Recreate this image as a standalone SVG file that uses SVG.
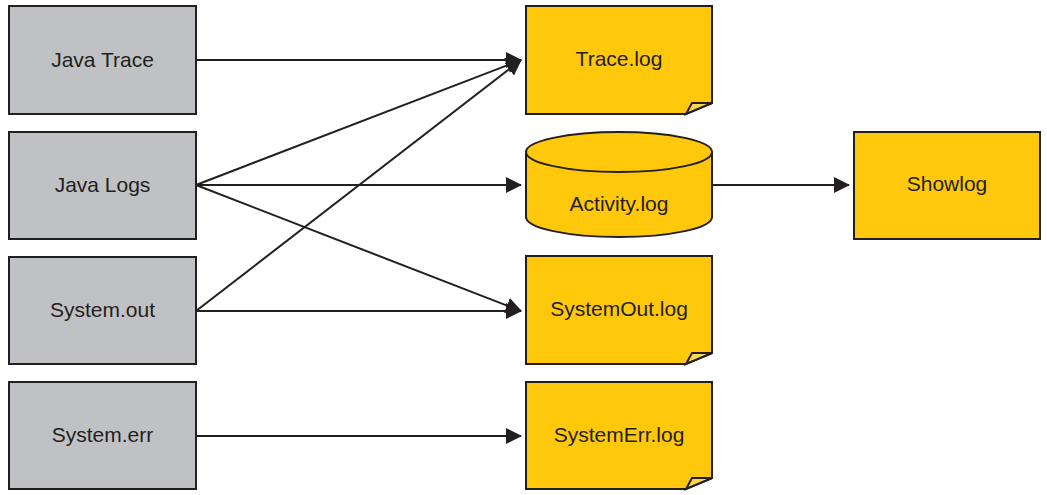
<svg xmlns="http://www.w3.org/2000/svg" width="1047" height="495" viewBox="0 0 1047 495">
<defs>
<style>
.src{fill:#c0c1c4;stroke:#231f20;stroke-width:2}
.log{fill:#ffc80a;stroke:#231f20;stroke-width:2;stroke-linejoin:miter}
.fold{fill:#ffd84a;stroke:#231f20;stroke-width:2;stroke-linejoin:miter}
.t{font-family:"Liberation Sans",Arial,sans-serif;font-size:21px;fill:#231f20;text-anchor:middle}
.c{stroke:#231f20;stroke-width:2;fill:none;marker-end:url(#ah)}
</style>
<marker id="ah" markerUnits="userSpaceOnUse" markerWidth="16" markerHeight="16" refX="15" refY="8" orient="auto" viewBox="0 0 16 16">
<path d="M0,0 L16,8 L0,16 z" fill="#231f20"/>
</marker>
</defs>
<rect width="1047" height="495" fill="#ffffff"/>
<g id="connectors">
<line class="c" x1="196" y1="60" x2="521" y2="60"/>
<line class="c" x1="196" y1="185" x2="521" y2="60"/>
<line class="c" x1="196" y1="311" x2="521" y2="60"/>
<line class="c" x1="196" y1="185" x2="521" y2="185"/>
<line class="c" x1="196" y1="185" x2="521" y2="311"/>
<line class="c" x1="196" y1="311" x2="521" y2="311"/>
<line class="c" x1="196" y1="436" x2="521" y2="436"/>
<line class="c" x1="712" y1="185" x2="849" y2="185"/>
</g>
<g id="java-trace">
<rect class="src" x="9" y="6" width="187" height="108"/>
<text class="t" x="102.5" y="67">Java Trace</text>
</g>
<g id="java-logs">
<rect class="src" x="9" y="132" width="187" height="107"/>
<text class="t" x="102.5" y="192">Java Logs</text>
</g>
<g id="system-out">
<rect class="src" x="9" y="257" width="187" height="107"/>
<text class="t" x="102.5" y="317">System.out</text>
</g>
<g id="system-err">
<rect class="src" x="9" y="382" width="187" height="107"/>
<text class="t" x="102.5" y="442">System.err</text>
</g>
<g id="trace-log">
<path class="log" d="M526,6 H712 V103 L686,114 H526 Z"/>
<path class="fold" d="M686,114 L692,103 H712 Z"/>
<text class="t" x="619" y="66">Trace.log</text>
</g>
<g id="activity-log">
<path class="log" d="M526,152 V217 A93,20 0 0 0 712,217 V152 A93,20 0 0 0 526,152 Z"/>
<path class="log" d="M526,152 A93,20 0 0 0 712,152"/>
<text class="t" x="619" y="211">Activity.log</text>
</g>
<g id="systemout-log">
<path class="log" d="M526,256 H712 V353 L686,364 H526 Z"/>
<path class="fold" d="M686,364 L692,353 H712 Z"/>
<text class="t" x="619" y="316">SystemOut.log</text>
</g>
<g id="systemerr-log">
<path class="log" d="M526,382 H712 V478 L686,489 H526 Z"/>
<path class="fold" d="M686,489 L692,478 H712 Z"/>
<text class="t" x="619" y="442">SystemErr.log</text>
</g>
<g id="showlog">
<rect class="log" x="854" y="132" width="186" height="107"/>
<text class="t" x="947" y="191">Showlog</text>
</g>
</svg>
